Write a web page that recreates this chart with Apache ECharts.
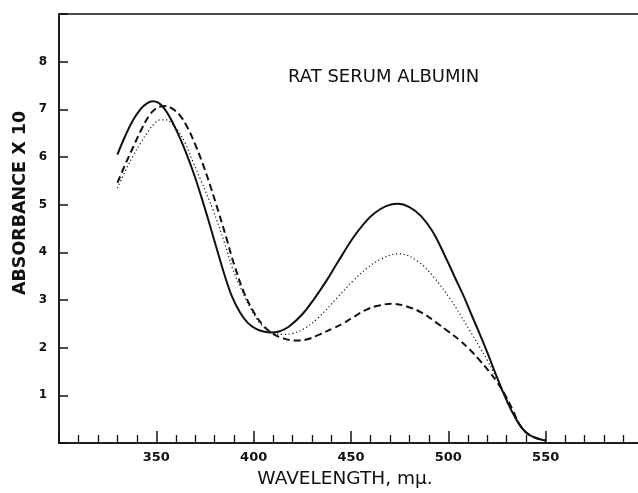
<!DOCTYPE html>
<html>
<head>
<meta charset="utf-8">
<title>Rat serum albumin</title>
<script src="https://cdn.jsdelivr.net/npm/echarts@6/dist/echarts.min.js"></script>
<style>
  html, body { margin: 0; padding: 0; background: #fff; }
  #chart { width: 638px; height: 493px; }
</style>
</head>
<body>
<div id="chart"></div>
<script>
// Absorption spectra of rat serum albumin: wavelength (mμ) vs absorbance x 10
const xTickLabels = [350, 400, 450, 500, 550];
const yTickLabels = [1, 2, 3, 4, 5, 6, 7, 8];

// solid curve
const wavelengthsSolid = [330, 334, 338, 342, 345, 348, 351, 354, 357, 361, 365, 369, 373, 377, 381, 385, 389, 393, 397, 401, 405, 409, 413, 418, 425, 431, 437, 443, 451, 457, 462, 468, 474, 480, 486, 492, 499, 504, 508, 512, 516, 520, 524, 528, 532, 537, 542, 550];
const absorbanceSolid = [6.05, 6.44, 6.77, 7.01, 7.12, 7.17, 7.14, 7.02, 6.83, 6.50, 6.12, 5.68, 5.18, 4.64, 4.08, 3.53, 3.06, 2.74, 2.52, 2.40, 2.34, 2.32, 2.34, 2.44, 2.70, 3.02, 3.38, 3.78, 4.30, 4.62, 4.82, 4.97, 5.02, 4.95, 4.76, 4.43, 3.86, 3.42, 3.07, 2.68, 2.30, 1.90, 1.48, 1.08, 0.72, 0.36, 0.16, 0.05];

// dotted curve
const wavelengthsDotted = [330, 334, 338, 342, 346, 349, 352, 355, 358, 361, 365, 369, 373, 379, 385, 389, 393, 398.5, 403.5, 409, 415, 420, 426, 433, 443, 451, 458, 465, 474.5, 484, 492.5, 501, 506, 511, 516, 520, 524, 528, 532, 537, 542, 550];
const absorbanceDotted = [5.35, 5.70, 6.02, 6.30, 6.55, 6.70, 6.78, 6.78, 6.70, 6.56, 6.28, 5.88, 5.50, 4.90, 4.20, 3.68, 3.28, 2.82, 2.50, 2.33, 2.28, 2.30, 2.40, 2.62, 3.05, 3.40, 3.66, 3.85, 3.97, 3.82, 3.48, 3.02, 2.70, 2.36, 2.02, 1.74, 1.42, 1.06, 0.72, 0.36, 0.16, 0.05];

// dashed curve
const wavelengthsDashed = [330, 334, 338, 342, 346, 349, 352, 355, 358, 362, 366, 370, 374, 378, 382, 386, 390, 395, 400, 405, 410, 415, 421, 427, 434, 441, 446, 450, 458, 464, 471, 479, 487, 494, 500, 506, 511, 516, 521, 525, 529, 533, 537, 542, 550];
const absorbanceDashed = [5.46, 5.84, 6.20, 6.55, 6.85, 6.99, 7.06, 7.07, 7.02, 6.88, 6.62, 6.26, 5.84, 5.36, 4.84, 4.30, 3.74, 3.16, 2.75, 2.46, 2.29, 2.20, 2.15, 2.17, 2.28, 2.41, 2.51, 2.61, 2.80, 2.88, 2.92, 2.86, 2.72, 2.52, 2.34, 2.15, 1.96, 1.74, 1.50, 1.28, 1.02, 0.70, 0.36, 0.16, 0.05];

const pairs = (xs, ys) => xs.map((x, i) => [x, ys[i]]);
const ink = '#111';

const chart = echarts.init(document.getElementById('chart'), null, { renderer: 'canvas' });

chart.setOption({
  animation: false,
  backgroundColor: '#fff',
  title: {
    text: 'RAT SERUM ALBUMIN',
    left: 283,
    top: 63,
    textStyle: { fontFamily: 'DejaVu Sans', fontSize: 18, fontWeight: 'normal', color: ink }
  },
  grid: {
    left: 59, top: 14, right: -5, bottom: 50,
    containLabel: false,
    outerBoundsMode: 'none',
    show: true, borderColor: ink, borderWidth: 1.5, backgroundColor: 'transparent'
  },
  xAxis: {
    type: 'value', min: 300, max: 600, interval: 50,
    axisLine: { show: true, onZero: false, lineStyle: { color: ink, width: 1.5 } },
    axisTick: { show: true, inside: true, length: 12, lineStyle: { color: ink, width: 1.5 } },
    minorTick: { show: true, splitNumber: 5, length: 8, lineStyle: { color: ink, width: 1.3 } },
    splitLine: { show: false },
    minorSplitLine: { show: false },
    axisLabel: {
      margin: 8, color: ink, fontFamily: 'DejaVu Sans', fontSize: 13, fontWeight: 'bold',
      showMinLabel: true, showMaxLabel: true,
      formatter: v => (xTickLabels.includes(v) ? String(v) : '')
    }
  },
  yAxis: {
    type: 'value', min: 0, max: 9, interval: 1,
    axisLine: { show: true, onZero: false, lineStyle: { color: ink, width: 1.5 } },
    axisTick: { show: true, inside: true, length: 9, lineStyle: { color: ink, width: 1.5 } },
    splitLine: { show: false },
    axisLabel: {
      margin: 12, color: ink, fontFamily: 'DejaVu Sans', fontSize: 12, fontWeight: 'bold',
      formatter: v => (yTickLabels.includes(v) ? String(v) : '')
    }
  },
  graphic: [
    {
      type: 'text', x: 345, y: 479,
      style: {
        text: 'WAVELENGTH, mμ.', fill: ink,
        font: 'normal 18.5px "DejaVu Sans"', textAlign: 'center', textVerticalAlign: 'middle'
      }
    },
    {
      type: 'text', x: 20, y: 203, rotation: Math.PI / 2,
      style: {
        text: 'ABSORBANCE X 10', fill: ink,
        font: 'bold 17.5px "DejaVu Sans"', textAlign: 'center', textVerticalAlign: 'middle'
      }
    }
  ],
  series: [
    {
      name: 'solid', type: 'line', data: pairs(wavelengthsSolid, absorbanceSolid),
      smooth: 0.4, symbol: 'none',
      lineStyle: { color: ink, width: 2, type: 'solid' }
    },
    {
      name: 'dotted', type: 'line', data: pairs(wavelengthsDotted, absorbanceDotted),
      smooth: 0.4, symbol: 'none',
      lineStyle: { color: ink, width: 1.2, type: [1.2, 2.6] }
    },
    {
      name: 'dashed', type: 'line', data: pairs(wavelengthsDashed, absorbanceDashed),
      smooth: 0.4, symbol: 'none',
      lineStyle: { color: ink, width: 2, type: [7, 4] }
    }
  ]
});
</script>
</body>
</html>
